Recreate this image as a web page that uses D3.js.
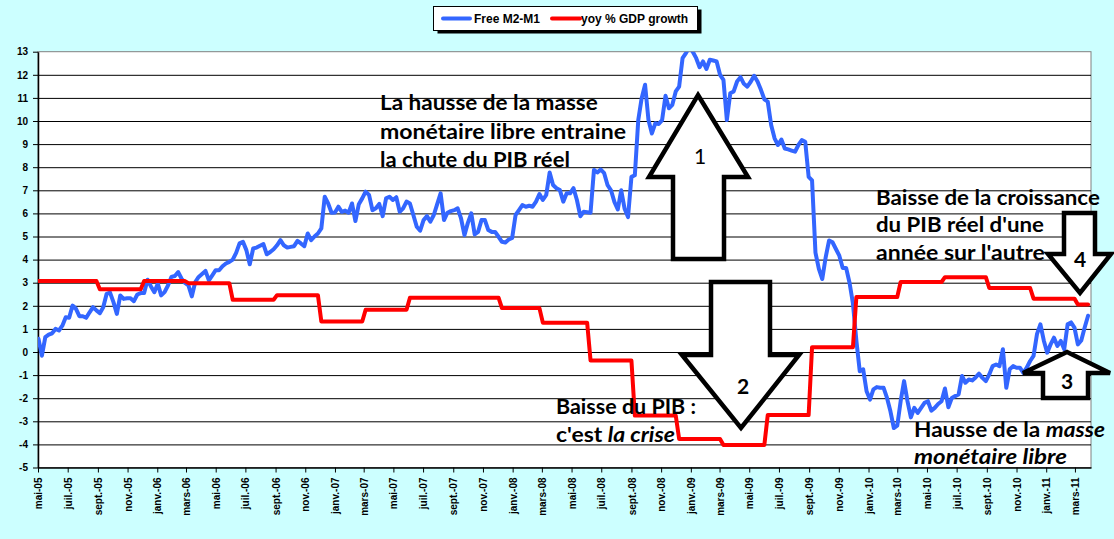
<!DOCTYPE html>
<html><head><meta charset="utf-8">
<script src="https://cdn.jsdelivr.net/npm/d3@7"></script>
<style>body{margin:0;background:#CCFFFF;} svg{display:block}</style>
</head><body><svg id="c" width="1114" height="539"></svg>
<script>
// ---------------- DATA ----------------
const blueName = "Free M2-M1";
const redName = "yoy % GDP growth";
// weekly observations of Free M2-M1, first week starting:
const blueStart = "2005-05-02";
const blueValues = [
 0.57,-0.16,0.64,0.75,0.81,1.0,0.93,1.14,1.5,1.48,
 2.01,1.87,1.55,1.55,1.48,1.72,1.94,1.8,1.68,1.94,
 2.52,2.57,2.16,1.65,2.45,2.3,2.33,2.33,2.2,2.49,
 2.55,2.55,3.13,2.84,2.59,2.96,2.45,2.59,2.88,3.25,
 3.29,3.46,3.17,2.99,2.88,2.41,3.03,3.25,3.38,3.51,
 3.1,3.32,3.54,3.54,3.71,3.83,3.9,4.0,4.29,4.7,
 4.77,4.41,3.8,4.48,4.52,4.6,4.67,4.23,4.33,4.45,
 4.62,4.84,4.62,4.52,4.55,4.58,4.81,4.7,4.58,5.13,
 4.84,5.0,5.13,5.35,6.72,6.43,6.03,6.04,6.29,6.07,
 6.12,6.03,6.43,5.67,6.4,6.65,6.94,6.8,6.14,6.22,
 6.41,5.88,6.65,6.72,6.58,6.7,6.07,6.22,6.51,6.43,
 5.93,5.42,5.25,5.71,5.88,5.64,5.93,6.4,6.87,5.71,
 6.03,6.1,6.14,6.22,5.78,5.06,5.59,6.0,5.09,5.2,
 5.71,5.71,5.28,5.2,5.2,4.99,4.77,4.74,4.87,4.94,
 5.93,6.14,6.36,6.29,6.33,6.29,6.51,6.84,6.58,6.8,
 7.77,7.23,7.09,7.01,6.51,6.87,6.87,7.09,6.58,5.88,
 6.07,6.05,6.03,7.88,7.77,7.9,7.74,7.22,7.0,6.5,
 6.17,7.0,6.2,5.84,7.58,7.65,10.04,10.99,11.57,10.04,
 9.46,9.9,9.87,10.04,11.09,10.55,10.7,11.28,11.49,12.72,
 12.94,13.2,13.0,12.72,12.33,12.58,12.25,12.65,12.62,12.58,
 12.0,11.78,10.04,11.2,11.28,11.71,11.9,11.61,11.49,11.7,
 11.96,11.71,11.35,10.94,10.84,9.83,9.25,8.96,9.2,8.81,
 8.77,8.72,8.67,8.96,9.17,9.1,7.58,7.43,4.3,3.6,
 3.16,4.1,4.83,4.75,4.46,4.17,3.64,3.64,3.0,2.1,
 0.5,-0.83,-0.75,-1.7,-2.06,-1.62,-1.52,-1.55,-1.55,-1.99,
 -2.57,-3.29,-3.19,-2.13,-1.26,-2.13,-2.83,-2.42,-2.64,-2.42,
 -2.2,-2.13,-2.54,-2.42,-2.25,-2.13,-1.58,-2.39,-1.99,-1.91,
 -1.84,-1.04,-1.33,-1.19,-1.23,-1.1,-0.94,-1.12,-1.26,-0.97,
 -0.61,-0.54,-0.61,0.12,-1.55,-0.75,-0.61,-0.68,-0.68,-0.9,
 -0.68,-0.39,-0.17,0.77,1.2,0.5,-0.03,0.33,0.62,0.26,
 0.48,0.12,1.2,1.28,1.06,0.33,0.5,1.06,1.57
];
// yoy GDP growth: value in force from each start date (weekly series, last week below)
const redStarts = ["2005-05-02","2005-09-05","2005-12-05","2006-03-06","2006-06-05","2006-09-04",
 "2006-12-04","2007-03-05","2007-06-04","2007-12-10","2008-03-03","2008-06-09","2008-09-08",
 "2008-12-08","2009-03-09","2009-06-08","2009-09-07","2009-12-07","2010-03-08","2010-06-07",
 "2010-09-06","2010-12-06","2011-03-07"];
const redValues = [3.07,2.72,3.07,2.98,2.26,2.46,1.32,1.83,2.35,1.9,1.27,-0.37,-2.75,
 -3.77,-4.03,-2.73,0.21,2.38,3.03,3.24,2.77,2.31,2.06];
const redEnd = "2011-03-28";

const xDomain = ["2005-05-01","2011-04-03"];
const xTickStart = "2005-05-01"; // one tick every 2 months
const xTickLabels = ["mai-05","juil.-05","sept.-05","nov.-05","janv.-06","mars-06","mai-06","juil.-06",
 "sept.-06","nov.-06","janv.-07","mars-07","mai-07","juil.-07","sept.-07","nov.-07","janv.-08","mars-08",
 "mai-08","juil.-08","sept.-08","nov.-08","janv.-09","mars-09","mai-09","juil.-09","sept.-09","nov.-09",
 "janv.-10","mars-10","mai-10","juil.-10","sept.-10","nov.-10","janv.-11","mars-11"];
const yTicks = [-5,-4,-3,-2,-1,0,1,2,3,4,5,6,7,8,9,10,11,12,13];

// ---------------- LAYOUT ----------------
const parse = d3.timeParse("%Y-%m-%d");
const P = {left:38, right:1091, top:51.7, bottom:467.5};
const BLUE = "#3366FF", RED = "#FF0000";
const AXF = "'Liberation Sans', Arial, sans-serif";
const TXF = "Lato, 'Open Sans', sans-serif";

const svg = d3.select("#c");
svg.append("rect").attr("width",1114).attr("height",539).attr("fill","#CCFFFF");

const x = d3.scaleTime().domain(xDomain.map(parse)).range([P.left, P.right]);
const y = d3.scaleLinear().domain([yTicks[0], yTicks[yTicks.length-1]]).range([P.bottom, P.top]);

svg.append("rect").attr("x",P.left).attr("y",P.top).attr("width",P.right-P.left)
  .attr("height",P.bottom-P.top).attr("fill","#fff").attr("stroke","#808080").attr("stroke-width",1);

// gridlines
const grid = svg.append("g").attr("transform",`translate(${P.left},0)`)
  .call(d3.axisLeft(y).tickValues(yTicks.slice(1,-1)).tickSize(-(P.right-P.left)).tickFormat(""));
grid.select(".domain").remove();
grid.selectAll("line").attr("stroke","#000").attr("stroke-width",1);

// y axis
const ya = svg.append("g").attr("transform",`translate(${P.left},0)`)
  .call(d3.axisLeft(y).tickValues(yTicks).tickSize(5).tickSizeOuter(0).tickFormat(d=>String(d)));
ya.select(".domain").attr("stroke","#000").attr("stroke-width",1.5);
ya.selectAll("line").attr("stroke","#000");
ya.selectAll("text").attr("font-family",AXF).attr("font-weight","bold").attr("font-size",10)
  .attr("fill","#000").attr("x",-10);

// x axis
const t0 = parse(xTickStart);
const xTicks = xTickLabels.map((l,i)=>d3.timeMonth.offset(t0, 2*i));
const xa = svg.append("g").attr("transform",`translate(0,${P.bottom})`)
  .call(d3.axisBottom(x).tickValues(xTicks).tickSize(5).tickSizeOuter(0).tickFormat((d,i)=>xTickLabels[i]));
xa.select(".domain").attr("stroke","#000").attr("stroke-width",1.5);
xa.selectAll("line").attr("stroke","#000");
xa.selectAll("text").attr("font-family",AXF).attr("font-weight","bold").attr("font-size",10)
  .attr("fill","#000").attr("transform","rotate(-90)").attr("text-anchor","end")
  .attr("x",-10).attr("y",0).attr("dy","0.36em");

// clip
svg.append("clipPath").attr("id","clip").append("rect")
  .attr("x",P.left).attr("y",P.top).attr("width",P.right-P.left).attr("height",P.bottom-P.top);

const b0 = parse(blueStart);
const blueData = blueValues.map((v,i)=>({d:d3.timeDay.offset(b0,7*i), v}));
const redData = [];
redStarts.forEach((s,k)=>{
  const st = parse(s);
  const en = k < redStarts.length-1 ? d3.timeDay.offset(parse(redStarts[k+1]),-7) : parse(redEnd);
  redData.push({d:st, v:redValues[k]}, {d:en, v:redValues[k]});
});
const line = d3.line().x(p=>x(p.d)).y(p=>y(p.v));
const lg = svg.append("g").attr("clip-path","url(#clip)");
lg.append("path").datum(blueData).attr("d",line).attr("fill","none").attr("stroke",BLUE)
  .attr("stroke-width",4).attr("stroke-linejoin","round").attr("stroke-linecap","round");
lg.append("path").datum(redData).attr("d",line).attr("fill","none").attr("stroke",RED)
  .attr("stroke-width",4).attr("stroke-linejoin","round").attr("stroke-linecap","round");

// ---------------- ANNOTATIONS ----------------
const notes = [
  {x:380, y:110, w:218, parts:[["La hausse de la masse",0]]},
  {x:380, y:138.5, w:246, parts:[["monétaire libre entraine",0]]},
  {x:380, y:166.5, w:190, parts:[["la chute du PIB réel",0]]},
  {x:556, y:413.5, w:140, parts:[["Baisse du PIB :",0]]},
  {x:556, y:441.5, w:119, parts:[["c'est ",0],["la crise",1]]},
  {x:876, y:205, w:224, parts:[["Baisse de la croissance",0]]},
  {x:876, y:232, w:168, parts:[["du PIB réel d'une",0]]},
  {x:876, y:260, w:169, parts:[["année sur l'autre",0]]},
  {x:914, y:436.5, w:191, parts:[["Hausse de la ",0],["masse",1]]},
  {x:914, y:463.5, w:153, parts:[["monétaire libre",1]]}
];
notes.forEach(n=>{
  const g = svg.append("g");
  const t = g.append("text").attr("font-family",TXF).attr("font-weight","bold").attr("font-size",20).attr("fill","#000");
  n.parts.forEach(p=>t.append("tspan").text(p[0]).attr("font-style",p[1]?"italic":"normal"));
  const w = t.node().getComputedTextLength();
  g.attr("transform",`translate(${n.x},${n.y}) scale(${n.w/w},1)`);
});

const arrows = [
  {pts:[[698,95],[748,177],[724,177],[724,259],[673,259],[673,177],[649,177]], label:"1", lx:700, ly:157, bold:false},
  {pts:[[711,282],[770,282],[770,355],[799,355],[741,428],[682,355],[711,355]], label:"2", lx:743, ly:387, bold:true},
  {pts:[[1067,352],[1110,373],[1088,373],[1088,398],[1043,398],[1043,373],[1023,373]], label:"3", lx:1067, ly:382, bold:true},
  {pts:[[1064,213],[1095,213],[1095,254],[1111,254],[1080,293],[1048,254],[1064,254]], label:"4", lx:1080, ly:260, bold:true}
];
arrows.forEach(a=>{
  svg.append("path").attr("d","M"+a.pts.map(p=>p.join(",")).join("L")+"Z")
    .attr("fill","#fff").attr("stroke","#000").attr("stroke-width",4.5).attr("stroke-linejoin","miter");
  svg.append("text").attr("x",a.lx).attr("y",a.ly).attr("dy","0.35em").attr("text-anchor","middle")
    .attr("font-family",TXF).attr("font-weight",a.bold?"bold":"normal").attr("font-size",21).attr("fill","#000").text(a.label);
});

// ---------------- LEGEND ----------------
const L = svg.append("g");
L.append("rect").attr("x",437.5).attr("y",9.5).attr("width",264).attr("height",24).attr("fill","#000");
L.append("rect").attr("x",433.5).attr("y",6.5).attr("width",264).attr("height",24).attr("fill","#fff").attr("stroke","#000");
const items = [{name:blueName,c:BLUE,x0:443,x1:470,tx:474},{name:redName,c:RED,x0:552,x1:580,tx:581}];
items.forEach(it=>{
  L.append("line").attr("x1",it.x0).attr("x2",it.x1).attr("y1",18.5).attr("y2",18.5)
    .attr("stroke",it.c).attr("stroke-width",4).attr("stroke-linecap","round");
  L.append("text").attr("x",it.tx).attr("y",22.8).attr("font-family",AXF).attr("font-weight","bold")
    .attr("font-size",12).attr("fill","#000").text(it.name);
});
</script></body></html>
